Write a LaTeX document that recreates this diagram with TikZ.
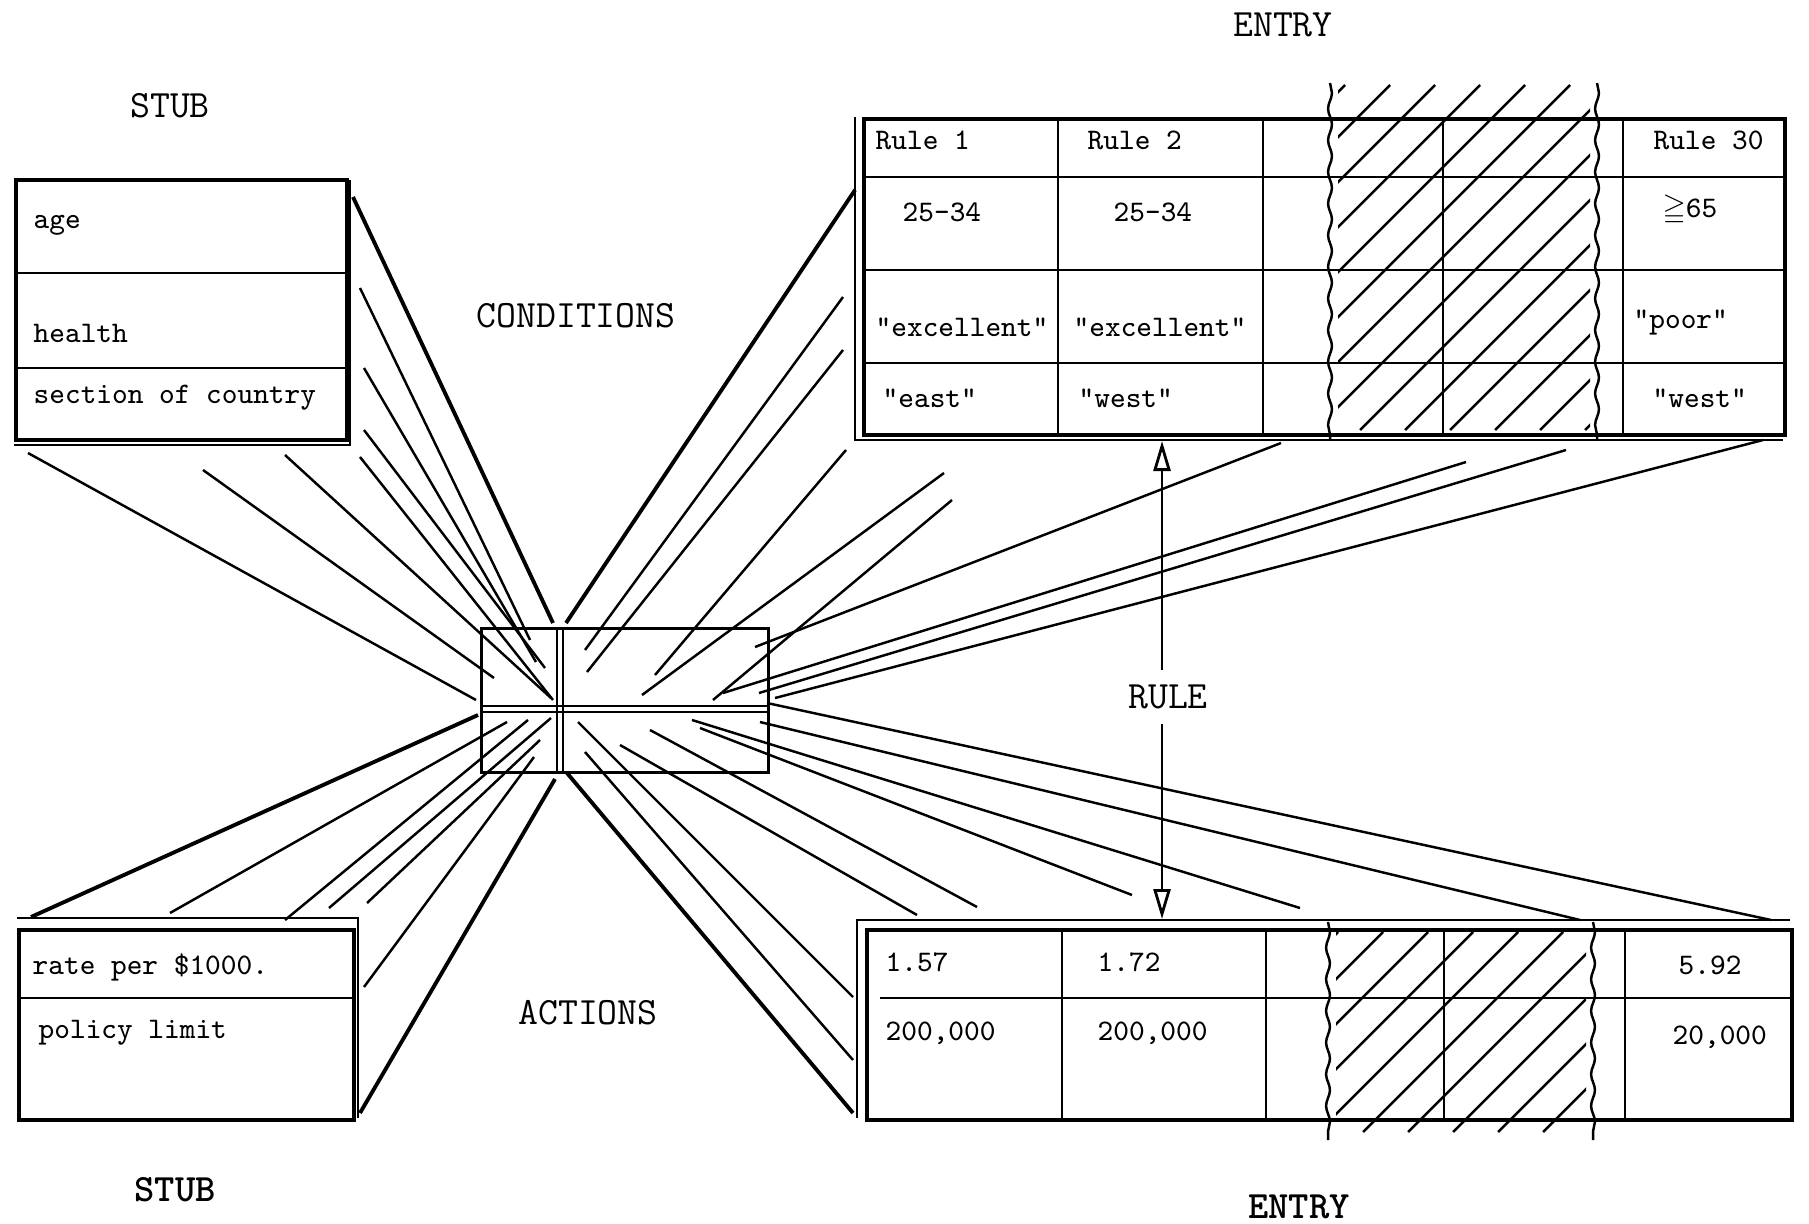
\documentclass[tikz,border=0pt]{standalone}
\usepackage{amssymb}
\usetikzlibrary{arrows.meta,decorations.pathmorphing}

\begin{document}
\begin{tikzpicture}[x=0.1mm,y=-0.1mm,
    every node/.style={font=\fontsize{8.5}{10}\selectfont\ttfamily},
    boxframe/.style={draw,line width=1pt,inner sep=0pt,anchor=north west},
    rowline/.style={line width=0.8pt},
    ray/.style={line width=0.7pt},
    heavyray/.style={line width=1.1pt},
    cut/.style={line width=0.7pt,decorate,
                decoration={snake,amplitude=0.55pt,segment length=9pt}},
    cell/.style={anchor=west,inner sep=0pt},
    caption/.style={font=\fontsize{11}{13}\selectfont\ttfamily},
    rulearrow/.style={-{Triangle[open,length=3mm,width=1.7mm]}}]
  \useasboundingbox (0,0) rectangle (1809,1223);

  % frames
  \node[boxframe,minimum width=33.1mm,minimum height=26mm] (condstub) at (14,178) {};
  \node[boxframe,minimum width=92.1mm,minimum height=31.6mm] (condentry) at (862,117) {};
  \node[boxframe,minimum width=33.5mm,minimum height=19mm] (actstub) at (17,928) {};
  \node[boxframe,minimum width=92.5mm,minimum height=19mm] (actentry) at (865,928) {};
  \node[boxframe,line width=0.8pt,minimum width=28.7mm,minimum height=14.4mm] (core) at (480,627) {};

  % conditions stub
  \draw[rowline] (14,273) -- (345,273) (14,368) -- (345,368);
  \draw[rowline] (350,180) -- (350,445) -- (14,445);

  % conditions entry
  \foreach \y in {177,270,363}
    \draw[rowline] (862,\y) -- (1783,\y);
  \foreach \x in {1058,1263,1443,1623}
    \draw[rowline] (\x,117) -- (\x,433);
  \draw[rowline] (855,117) -- (855,440) -- (1783,440);
  \foreach \x in {1330,1597}
    \draw[cut] (\x,83) -- (\x,440);
  \begin{scope}
    \clip (1338,85) rectangle (1590,430);
    \foreach \c in {1430,1475,...,2020}
      \draw[ray] ({\c-430},430) -- ({\c-85},85);
  \end{scope}

  % actions stub
  \draw[rowline] (17,998) -- (352,998);
  \draw[rowline] (17,918) -- (358,918) -- (358,1118);

  % actions entry
  \draw[rowline] (880,998) -- (1790,998);
  \foreach \x in {1062,1266,1444,1625}
    \draw[rowline] (\x,928) -- (\x,1118);
  \draw[rowline] (857,1118) -- (857,920) -- (1790,920);
  \foreach \x in {1328,1593}
    \draw[cut] (\x,922) -- (\x,1140);
  \begin{scope}
    \clip (1336,932) rectangle (1586,1132);
    \foreach \c in {2270,2315,...,2760}
      \draw[ray] ({\c-1132},1132) -- ({\c-932},932);
  \end{scope}

  % small table in the middle
  \draw[rowline] (557,627) -- (557,771) (563,627) -- (563,771);
  \draw[rowline] (480,706) -- (767,706) (480,712) -- (767,712);

  % rays
  \foreach \ax/\ay/\bx/\by in {
      28/453/476/700, 203/470/494/678, 285/455/551/698, 360/457/553/700,
      364/430/545/668, 364/368/536/662, 360/288/530/640,
      843/297/585/650, 843/350/587/672, 846/450/655/675, 944/473/642/695,
      952/500/713/700, 1281/443/755/647, 1466/462/723/693, 1566/450/759/693,
      1763/440/775/698,
      585/752/853/1060, 578/722/853/997, 620/745/917/915, 650/730/977/907,
      700/728/1132/895, 692/720/1300/908, 760/722/1580/920, 767/703/1771/920,
      507/722/170/913, 528/720/285/920, 551/718/329/908, 540/740/367/903,
      534/757/364/987}
    \draw[ray] (\ax,\ay) -- (\bx,\by);
  \foreach \ax/\ay/\bx/\by in {
      353/197/553/623, 855/190/566/623, 567/773/853/1113, 478/715/31/917,
      555/779/360/1113}
    \draw[heavyray] (\ax,\ay) -- (\bx,\by);

  % stub texts
  \foreach \x/\y/\t [count=\i] in {
      33/225/age, 33/333/health, 33/398/section of country,
      32/967/{rate per \$1000.}, 38/1033/policy limit}
    \node[cell] (stub\i) at (\x,\y) {\t};

  % entry texts
  \foreach \x/\y/\t [count=\i] in {
      875/140/Rule 1, 1087/140/Rule 2, 1653/140/Rule 30,
      902/212/25-34, 1113/212/25-34, 1662/210/{$\geqq$65},
      875/327/"excellent", 1073/327/"excellent", 1633/323/"poor",
      882/398/"east", 1078/398/"west", 1652/398/"west",
      885/962/1.57, 1097/962/1.72, 1678/965/5.92,
      885/1033/{200,000}, 1097/1033/{200,000}, 1672/1037/{20,000}}
    \node[cell] (entry\i) at (\x,\y) {\t};

  % captions
  \node[caption] (stubtop) at (170,106) {STUB};
  \node[caption] (entrytop) at (1283,25) {ENTRY};
  \node[caption] (condlbl) at (576,316) {CONDITIONS};
  \node[caption] (actlbl) at (588,1013) {ACTIONS};
  \node[caption,inner sep=4pt] (rulelbl) at (1168,697) {RULE};
  \node[caption,font=\fontsize{11}{13}\selectfont\ttfamily\bfseries] (stubbot) at (175,1190) {STUB};
  \node[caption,font=\fontsize{11}{13}\selectfont\ttfamily\bfseries] (entrybot) at (1299,1207) {ENTRY};

  % rule arrows
  \coordinate (condfoot) at (1162,441);
  \coordinate (actfoot) at (1162,919);
  \draw[rowline,rulearrow] (rulelbl.north -| condfoot) -- (condfoot);
  \draw[rowline,rulearrow] (rulelbl.south -| actfoot) -- (actfoot);
\end{tikzpicture}
\end{document}
